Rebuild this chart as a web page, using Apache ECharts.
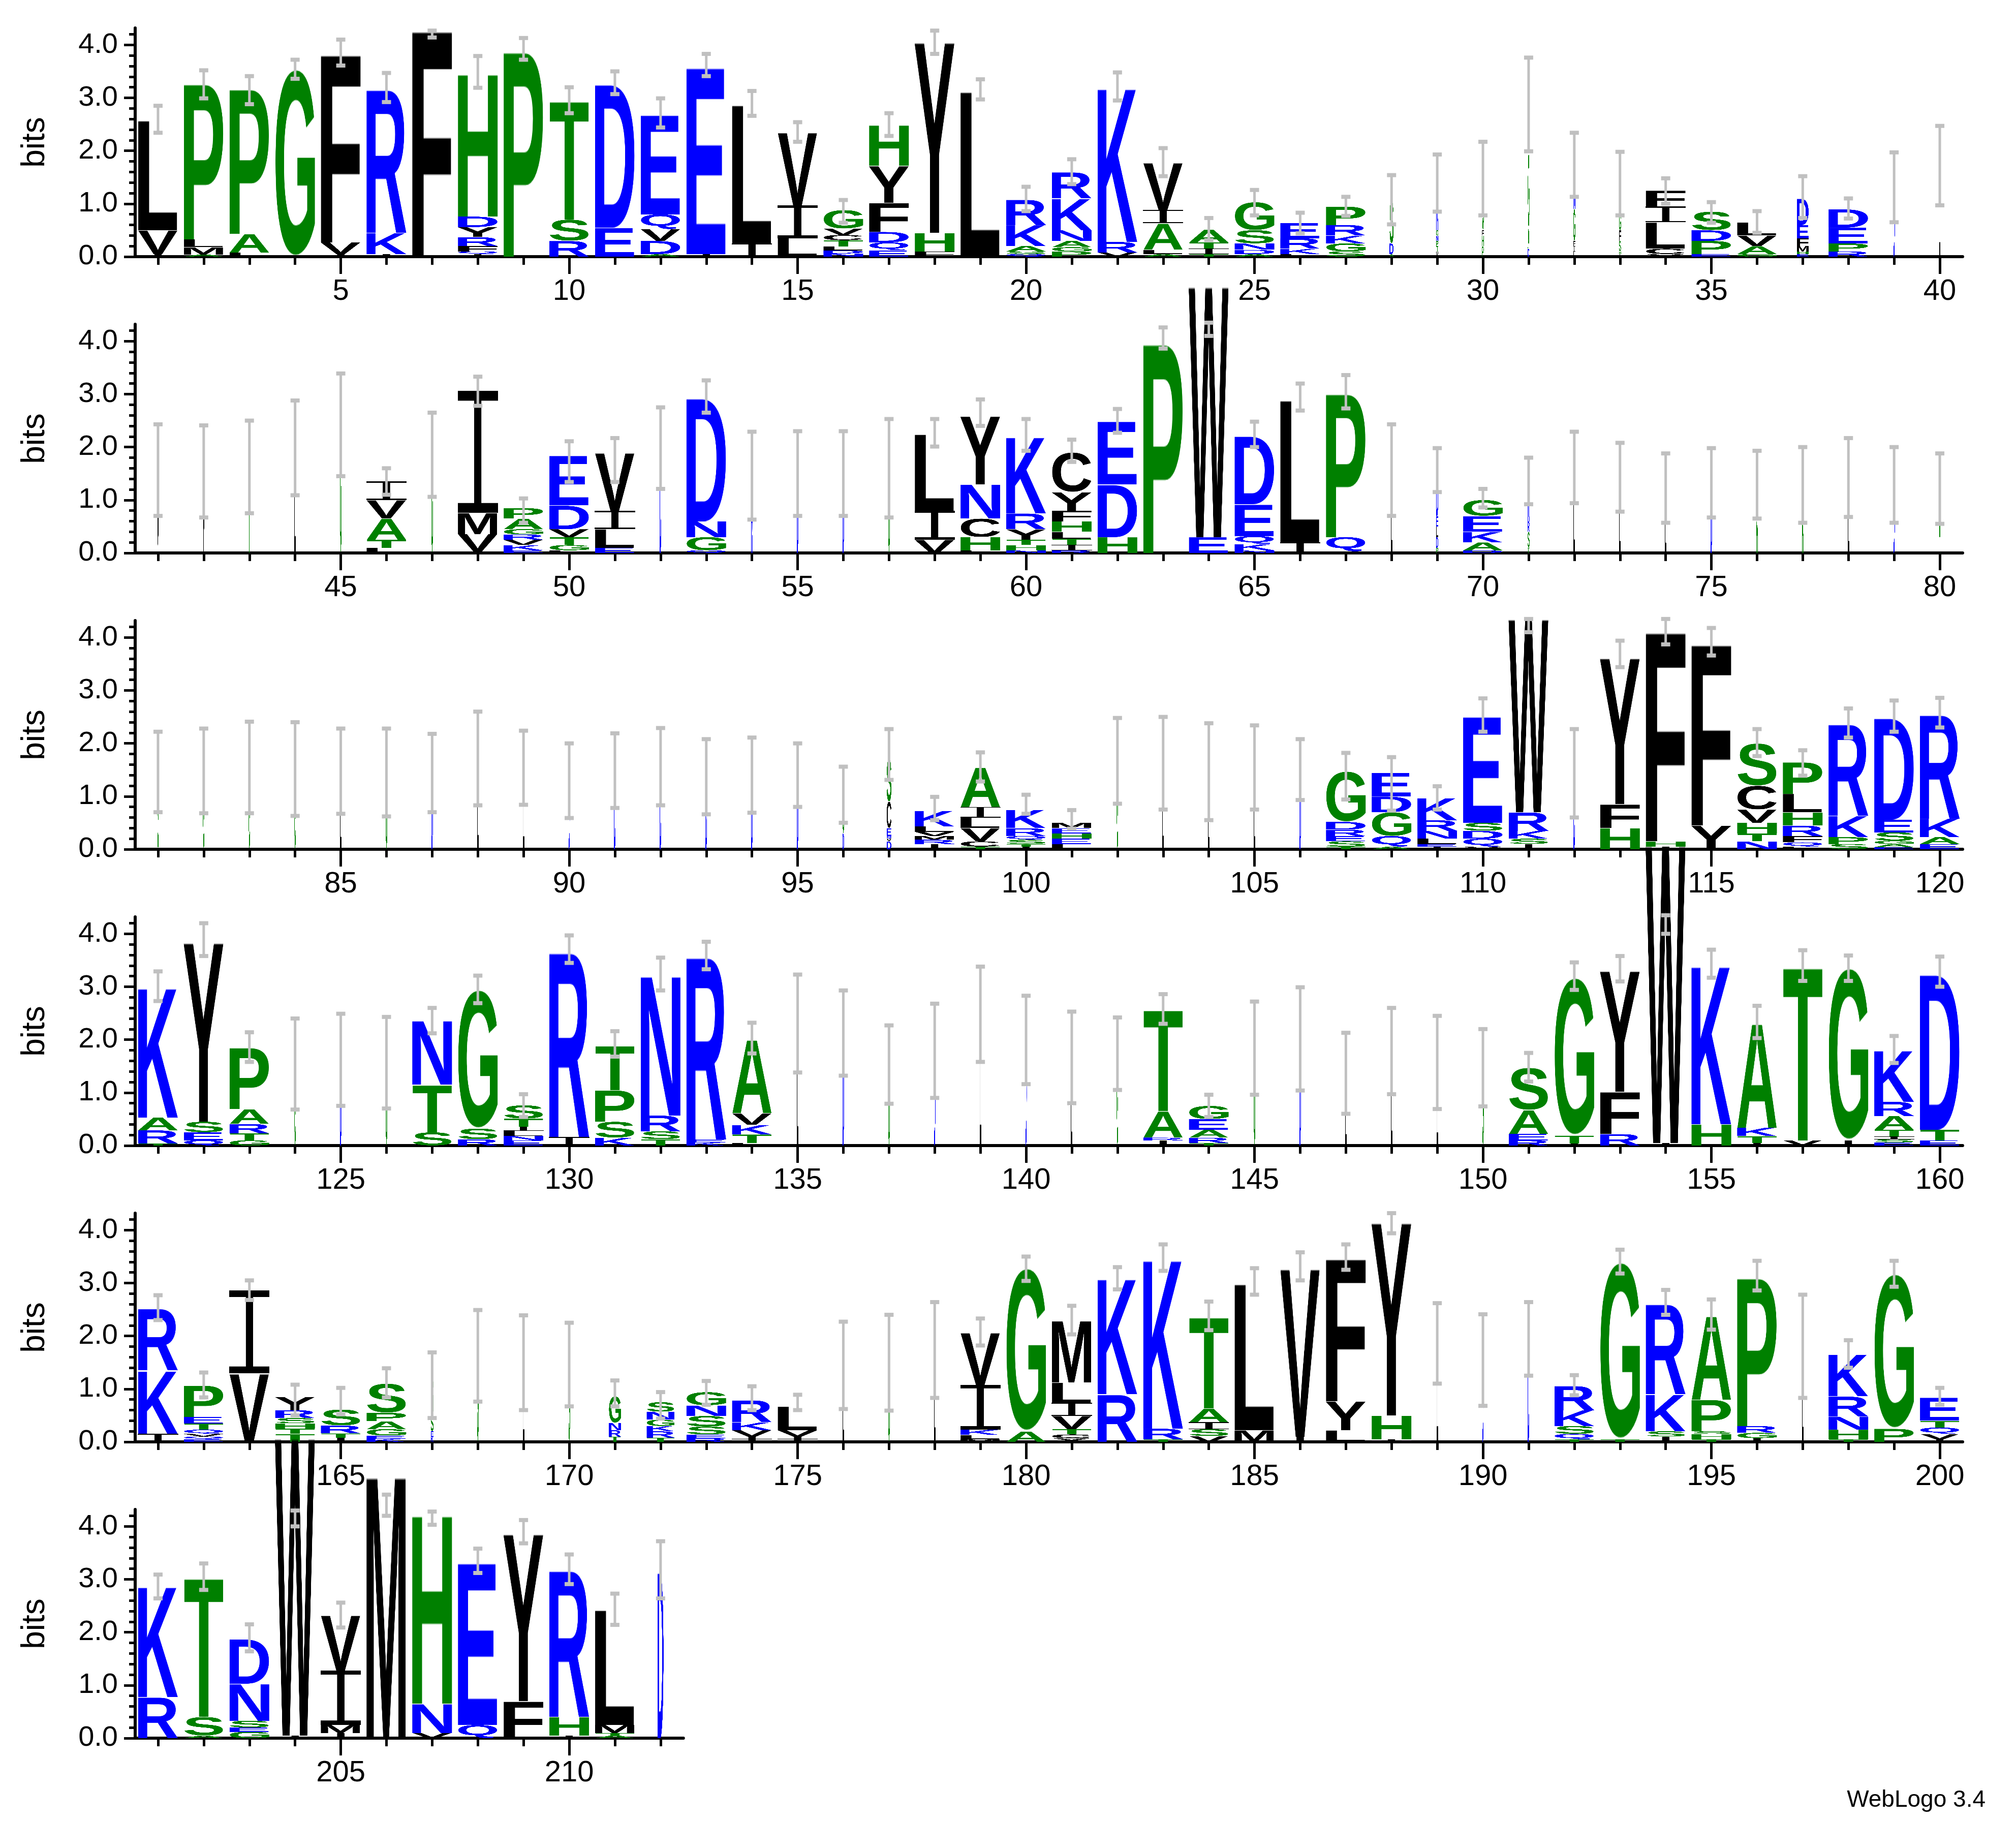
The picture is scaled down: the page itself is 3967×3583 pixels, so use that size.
<!DOCTYPE html><html><head><meta charset="utf-8">
<script src="https://cdn.jsdelivr.net/npm/echarts@6/dist/echarts.min.js"></script>
<style>html,body{margin:0;background:#fff}#c{width:3967px;height:3583px}</style></head>
<body><div id="c"></div><script>
// Letter stacks per position, bottom to top, "Letter:bits"; optional "wX|" = stack width fraction
const row1 = ["I:.05 V:.45 L:2.1","A:.04 M:.14 L:.15 P:2.97","L:.08 A:.35 P:2.77","G:3.54","I:.05 V:.22 F:3.59","I:.05 K:.4 R:2.74","F:4.32","I:.05 Q:.05 F:.1 R:.17 Y:.19 D:.2 H:2.72","P:3.92","R:.3 S:.4 T:2.26","E:.55 D:2.74","A:.05 D:.25 V:.22 Q:.28 E:1.9","I:.05 E:3.57","I:.25 L:2.65","L:.35 I:.62 V:1.39","N:.06 D:.06 L:.07 T:.12 C:.1 V:.12 G:.35","E:.12 Q:.15 D:.2 F:.55 Y:.7 H:.77","F:.1 H:.35 Y:3.65","L:3.16","Q:.05 S:.05 A:.1 K:.4 R:.48","P:.1 G:.08 A:.12 N:.2 K:.6 R:.5","V:.08 R:.2 K:2.93","A:.05 L:.08 A:.5 I:.25 V:.9","T:.05 I:.1 T:.12 A:.24","A:.05 D:.08 N:.12 S:.25 G:.53","L:.05 K:.1 R:.2 E:.29","S:.1 G:.15 K:.15 R:.2 P:.35","w.1|A:.05 D:.2 S:.8","w.06|V:.1 T:.1 P:.1 N:.1 G:.1 K:.9","w.04|P:.2 H:.2 F:.1 G:1.0","w.04|D:.15 A:.4 G:1.4","w.05|L:.1 I:.1 F:.1 G:.6 N:.83","w.05|I:.05 H:.05 S:.2 F:.2 G:.3 L:.58","V:.05 C:.1 L:.5 I:.3 F:.3","E:.05 P:.25 D:.2 S:.35","G:.05 A:.15 V:.2 L:.25","w.3|E:.05 H:.05 M:.1 F:.15 E:.25 D:.5","R:.1 P:.15 E:.3 D:.35","w.03|D:1.3","w.03|L:1.73"];
const err1 = [[2.34,2.85],[2.99,3.52],[2.88,3.41],[3.36,3.72],[3.61,4.1],[2.92,3.47],[4.14,4.27],[3.19,3.79],[3.72,4.13],[2.71,3.2],[3.07,3.5],[2.44,2.99],[3.41,3.83],[2.66,3.13],[2.17,2.54],[.64,1.07],[2.28,2.71],[3.83,4.27],[2.97,3.35],[.86,1.32],[1.37,1.84],[2.95,3.48],[1.52,2.05],[.31,.73],[.78,1.26],[.44,.83],[.77,1.13],[.61,1.54],[.85,1.93],[.78,2.17],[1.99,3.76],[1.13,2.34],[.78,1.98],[1.0,1.48],[.64,1.03],[.45,.86],[.73,1.52],[.72,1.1],[.65,1.97],[.97,2.47]];
const row2 = ["w.01|V:1.55","w.01|V:1.55","w.01|T:1.6","w.01|L:2.0","w.01|G:2.4","L:.1 T:.15 A:.4 V:.35 I:.35","w.01|G:1.85","L:.03 V:.33 M:.4 I:2.3","E:.05 K:.1 V:.1 R:.1 G:.1 A:.2 P:.2","L:.05 G:.1 T:.15 V:.15 D:.45 E:.95","E:.1 L:.35 I:.35 V:1.1","w.02|D:1.98","Q:.05 G:.25 N:.3 D:2.35","w.01|N:1.45","w.01|D:1.5","w.01|D:1.5","w.01|G:1.6","V:.25 I:.55 L:1.46","L:.05 H:.25 C:.35 N:.65 Y:1.3","N:.05 H:.1 T:.1 Y:.2 R:.3 K:1.45","R:.05 I:.1 T:.12 L:.13 H:.2 F:.2 Y:.35 C:.75","H:.3 D:1.0 E:1.2","P:4.0","E:.3 W:4.8","N:.05 K:.12 Q:.15 E:.6 D:1.3","I:.2 L:2.72","I:.03 Q:.27 P:2.74","w.01|L:1.55","w.05|P:.1 D:.2 L:.2 E:.2 D:.8","D:.05 A:.15 K:.2 E:.3 G:.3","w.05|T:.1 S:.3 R:.2 K:.75","w.01|L:1.6","w.01|L:1.43","w.01|L:1.22","w.01|D:1.32","w.01|A:1.3","w.01|A:1.3","w.01|L:1.42","w.01|D:1.3","w.01|A:1.2"];
const err2 = [[.7,2.43],[.67,2.41],[.75,2.5],[1.09,2.88],[1.45,3.39],[1.1,1.6],[1.06,2.65],[2.78,3.33],[.57,1.03],[1.34,2.11],[1.34,2.17],[1.21,2.75],[2.65,3.26],[.63,2.29],[.7,2.3],[.7,2.3],[.67,2.53],[2.01,2.53],[2.4,2.9],[1.93,2.53],[1.72,2.14],[2.27,2.72],[3.86,4.26],[4.1,4.35],[2.0,2.48],[2.69,3.2],[2.73,3.36],[.7,2.43],[1.15,1.98],[.86,1.21],[.92,1.8],[.94,2.29],[.78,2.08],[.57,1.88],[.67,1.98],[.65,1.93],[.57,2.0],[.68,2.17],[.57,2.0],[.55,1.88]];
const row3 = ["w.01|G:1.46","w.01|G:1.48","w.01|G:1.55","w.01|G:1.52","w.01|L:1.48","w.01|G:1.45","w.01|D:1.44","w.01|L:1.7","w.01|L:1.54","w.01|D:1.3","w.01|D:1.48","w.01|D:1.56","w.01|D:1.37","w.01|D:1.4","w.01|D:1.4","w.02|D:.3 G:.75","w.12|D:.15 V:.05 Q:.05 E:.15 C:.5 S:.8","I:.1 R:.08 M:.07 V:.08 L:.1 K:.3","T:.05 C:.1 V:.25 L:.2 I:.2 A:.75","I:.05 T:.05 S:.08 Q:.07 R:.15 K:.35","L:.1 E:.1 H:.1 E:.1 M:.1","w.01|G:1.67","w.01|L:1.62","w.01|L:1.46","w.01|L:1.54","w.03|D:1.48","T:.05 S:.1 E:.1 R:.12 D:.15 G:.95","A:.05 Q:.2 G:.45 D:.3 E:.45","I:.05 E:.05 L:.1 N:.15 R:.2 K:.42","V:.05 Q:.15 D:.15 S:.15 E:2.03","I:.1 S:.1 K:.15 R:.35 W:3.7","w.02|D:1.43","H:.4 F:.45 Y:2.8","I:.05 H:.1 F:4.0","Y:.45 F:3.46","N:.15 T:.15 H:.2 V:.25 C:.45 S:.8","L:.05 Q:.08 F:.12 R:.2 H:.25 L:.35 P:.6","S:.1 P:.13 K:.4 R:1.75","E:.04 A:.06 G:.06 S:.16 E:.24 D:1.94","E:.1 A:.13 K:.35 R:1.98"];
const err3 = [[.7,2.22],[.68,2.28],[.68,2.41],[.63,2.4],[.67,2.28],[.62,2.28],[.7,2.18],[.83,2.6],[.84,2.24],[.59,2.0],[.78,2.19],[.83,2.29],[.66,2.08],[.69,2.11],[.8,2.0],[.5,1.56],[1.31,2.27],[.55,.99],[1.28,1.83],[.67,1.03],[.39,.74],[.86,2.48],[.75,2.5],[.55,2.38],[.75,2.34],[.93,2.08],[.94,1.82],[.73,1.74],[.75,1.19],[2.22,2.85],[4.1,4.35],[.6,2.27],[3.44,3.94],[3.87,4.35],[3.66,4.18],[1.76,2.27],[1.39,1.87],[2.11,2.66],[2.22,2.81],[2.3,2.86]];
const row4 = ["T:.04 R:.25 A:.24 K:2.47","Q:.1 E:.15 S:.2 Y:3.43","G:.1 T:.13 R:.18 A:.28 P:1.17","w.01|G:1.54","w.01|D:1.62","w.01|G:1.56","S:.25 T:.9 N:1.22","R:.12 S:.2 G:2.62","E:.1 N:.08 L:.1 I:.08 T:.15 S:.25","I:.16 R:3.53","K:.15 S:.3 P:.6 T:.84","T:.12 S:.15 R:.3 N:2.66","K:.06 E:.06 R:3.48","L:.05 T:.16 K:.18 V:.22 A:1.4","w.01|L:2.3","w.01|D:2.12","w.01|G:1.53","w.01|D:1.79","w.01|L:2.48","w.01|D:2.0","w.01|L:1.66","w.01|G:1.73","I:.1 R:.05 A:.5 T:1.93","T:.05 R:.1 A:.15 E:.2 G:.25","w.01|G:1.84","w.01|D:2.0","w.01|L:1.36","w.01|L:1.78","w.01|L:1.57","w.01|G:1.47","R:.1 E:.12 A:.45 S:.8","I:.04 T:.15 G:2.98","R:.22 F:.8 Y:2.31","I:.05 W:5.7","H:.4 K:3.02","I:.05 T:.13 K:.16 A:1.98","V:.1 T:3.3","I:.1 G:3.25","E:.06 S:.06 I:.05 T:.13 A:.26 R:.27 K:.97","E:.1 T:.2 D:2.97"];
const err4 = [[2.73,3.29],[3.58,4.2],[1.58,2.14],[.68,2.4],[.75,2.49],[.7,2.43],[2.12,2.6],[2.69,3.21],[.54,.97],[3.45,3.97],[1.68,2.16],[2.93,3.55],[3.33,3.85],[1.74,2.32],[1.38,3.23],[1.32,2.93],[.79,2.27],[.9,2.68],[1.58,3.38],[1.16,2.83],[.8,2.53],[1.05,2.42],[2.3,2.86],[.54,.96],[.96,2.72],[1.04,2.99],[.6,2.13],[.97,2.6],[.69,2.45],[.74,2.2],[1.21,1.75],[2.94,3.46],[3.1,3.58],[4.0,4.35],[3.17,3.7],[2.03,2.64],[3.11,3.69],[3.11,3.59],[1.56,2.07],[3.0,3.57]];
const row5 = ["I:.15 K:1.2 R:1.18","E:.05 Q:.05 V:.05 Q:.08 T:.12 E:.12 P:.6","V:1.3 I:1.56","T:.15 T:.1 H:.1 S:.1 R:.15 Y:.25","I:.08 T:.08 R:.15 S:.3","K:.06 E:.06 G:.12 A:.15 P:.16 S:.55","w.07|K:.1 E:.1 S:.3 G:.73","w.01|G:1.62","w.01|L:1.5","w.01|G:1.46","w.3|T:.1 R:.12 N:.14 G:.5","w.7|T:.08 R:.12 K:.1 G:.12 N:.15 S:.18","R:.07 E:.07 S:.15 S:.2 N:.2 G:.25","I:.05 I:.05 V:.12 K:.15 R:.42","I:.05 I:.05 V:.12 L:.45","w.01|L:1.45","w.01|G:1.5","w.01|L:1.73","M:.05 L:.08 K:.1 I:.85 V:.99","A:.2 G:3.08","Y:.07 C:.07 T:.1 V:.25 I:.25 L:.38 M:1.18","R:.9 K:2.2","T:.05 R:.2 K:3.22","V:.11 S:.13 I:.13 A:.26 T:1.74","M:.22 L:2.8","I:.1 V:3.21","L:.22 Y:.55 F:2.72","I:.05 H:.45 Y:3.69","w.01|L:1.86","w.01|D:1.55","w.03|D:1.95","T:.05 Q:.1 S:.15 K:.3 R:.46","T:.05 G:3.34","I:.1 S:.1 K:.7 R:1.72","T:.05 H:.1 S:.05 P:.6 A:1.59","I:.07 G:.1 R:.13 P:2.83","w.01|L:1.8","T:.05 H:.18 N:.25 R:.38 K:.8","P:.25 G:2.92","I:.05 V:.1 Q:.12 T:.13 E:.44"];
const err5 = [[2.3,2.77],[.84,1.31],[2.68,3.05],[.5,1.08],[.52,1.02],[.84,1.39],[.45,1.69],[.76,2.49],[.6,2.39],[.67,2.25],[.67,1.16],[.44,.94],[.7,1.15],[.6,1.05],[.6,.89],[.62,2.27],[.59,2.4],[.83,2.64],[1.82,2.33],[3.04,3.5],[2.03,2.57],[2.88,3.3],[3.23,3.73],[2.11,2.65],[2.78,3.28],[3.05,3.58],[3.25,3.73],[3.94,4.32],[1.1,2.62],[.68,2.41],[1.25,2.64],[.88,1.26],[3.18,3.63],[2.4,2.87],[2.12,2.69],[2.86,3.42],[.83,2.78],[1.4,1.92],[2.93,3.42],[.7,1.02]];
const row6 = ["R:.78 K:2.1","A:.05 S:.35 T:2.65","G:.12 E:.08 S:.13 N:.7 D:.85","I:.05 W:5.7","I:.1 M:.15 I:1.03 V:1.05","M:5.0","V:.1 N:.55 H:3.6","Q:.25 E:3.1","F:.7 Y:3.2","I:.05 H:.35 R:2.8","A:.05 T:.05 M:.15 L:2.2","w.15|D:3.17"];
const err6 = [[2.64,3.09],[2.8,3.3],[1.64,2.15],[4.0,4.3],[2.09,2.56],[4.2,4.6],[4.03,4.28],[3.12,3.58],[3.68,4.12],[2.91,3.47],[2.14,2.73],[2.64,3.72]];
const rowStarts = [1,41,81,121,161,201];
const rowEnds = [40,80,120,160,200,212];
const yTickLabels = [0,1,2,3,4];

const LETTERS='ACDEFGHIKLMNPQRSTVWY';
const colorOf=c=>'RKDENQ'.includes(c)?'#0000ff':('SGHTAP'.includes(c)?'#008000':'#000000');
const cache={};
function glyph(ch){
  if(cache[ch]) return cache[ch];
  const cv=document.createElement('canvas');
  if(ch==='I'){
    cv.width=200; cv.height=300; const c=cv.getContext('2d'); c.fillStyle=colorOf(ch);
    c.fillRect(0,0,200,24); c.fillRect(0,276,200,24); c.fillRect(82,0,36,300);
    cache[ch]=cv; return cv;
  }
  const font='bold 300px "Liberation Sans", Arial, sans-serif';
  const mc=document.createElement('canvas').getContext('2d'); mc.font=font;
  const m=mc.measureText(ch);
  const w=Math.ceil(m.actualBoundingBoxLeft+m.actualBoundingBoxRight), h=Math.ceil(m.actualBoundingBoxAscent+m.actualBoundingBoxDescent);
  cv.width=w; cv.height=h;
  const ctx=cv.getContext('2d'); ctx.font=font; ctx.fillStyle=colorOf(ch); ctx.textBaseline='alphabetic';
  ctx.fillText(ch,m.actualBoundingBoxLeft,m.actualBoundingBoxAscent);
  cache[ch]=cv; return cv;
}
function parseRow(strs,start){
  const out=[];
  strs.forEach((s,j)=>{
    let w=1,body=s;
    if(s[0]==='w'){const k=s.indexOf('|'); w=parseFloat(s.slice(1,k)); body=s.slice(k+1);}
    let y=0;
    body.trim().split(/\s+/).forEach(t=>{const p=t.split(':'); const hv=parseFloat(p[1]); out.push([start+j,y,y+hv,LETTERS.indexOf(p[0]),w]); y+=hv;});
  });
  return out;
}
function renderLetter(params,api){
  const x=api.value(0),y0=api.value(1),y1=api.value(2),li=api.value(3),w=api.value(4);
  const a=api.coord([x,y0]), b=api.coord([x,y1]);
  const colW=api.size([1,0])[0];
  const ww=Math.max(colW*0.88*w,3);
  return {type:'image',style:{image:glyph(LETTERS[li]),x:a[0]-ww/2,y:b[1],width:ww,height:Math.max(a[1]-b[1],0.5)}};
}
function renderErr(params,api){
  const x=api.value(0); const a=api.coord([x,api.value(1)]), b=api.coord([x,api.value(2)]);
  const g='#c0c0c0';
  return {type:'group',children:[
    {type:'line',shape:{x1:a[0],y1:a[1],x2:b[0],y2:b[1]},style:{stroke:g,lineWidth:5}},
    {type:'rect',shape:{x:a[0]-9,y:a[1]-4,width:18,height:8},style:{fill:g}},
    {type:'rect',shape:{x:b[0]-9,y:b[1]-4,width:18,height:8},style:{fill:g}}]};
}
const rows=[row1,row2,row3,row4,row5,row6], errs=[err1,err2,err3,err4,err5,err6];
const FONT='"Liberation Sans", Arial, sans-serif';
const grid=[],xAxis=[],yAxis=[],series=[];
const colPx=89.9;
rows.forEach((r,i)=>{
  const s=rowStarts[i], e=rowEnds[i];
  grid.push({left:266,top:55+583*i,width:colPx*(e-s+1),height:450});
  const all=[],fives=[];
  for(let p=s;p<=e;p++){all.push(p); if(p%5===0) fives.push(p);}
  const base={type:'value',gridIndex:i,position:'bottom',offset:0,min:s-0.5,max:e+0.5,splitLine:{show:false}};
  xAxis.push(Object.assign({},base,{axisLine:{lineStyle:{color:'#000',width:6}},axisTick:{customValues:all,length:16,lineStyle:{color:'#000',width:5}},axisLabel:{customValues:fives,fontSize:58,color:'#000',fontFamily:FONT,margin:40}}));
  xAxis.push(Object.assign({},base,{axisLine:{show:false},axisTick:{customValues:fives,length:34,lineStyle:{color:'#000',width:5}},axisLabel:{show:false}}));
  const ticks=[]; for(let k=0;k<=21;k++) ticks.push(+(k*0.2).toFixed(1));
  const ybase={type:'value',gridIndex:i,position:'left',offset:0,min:0,max:4.32,splitLine:{show:false}};
  yAxis.push(Object.assign({},ybase,{name:'bits',nameLocation:'middle',nameGap:165,nameTextStyle:{fontSize:64,color:'#000',fontFamily:FONT},axisLine:{lineStyle:{color:'#000',width:6}},axisTick:{customValues:ticks,length:12,lineStyle:{color:'#000',width:5}},axisLabel:{customValues:yTickLabels,formatter:v=>v.toFixed(1),fontSize:56,color:'#000',fontFamily:FONT,margin:34}}));
  yAxis.push(Object.assign({},ybase,{axisLine:{show:false},axisTick:{customValues:yTickLabels,length:22,lineStyle:{color:'#000',width:5}},axisLabel:{show:false}}));
  series.push({type:'custom',coordinateSystem:'cartesian2d',xAxisIndex:2*i,yAxisIndex:2*i,clip:false,z:2,renderItem:renderLetter,data:parseRow(r,s),animation:false});
  series.push({type:'custom',coordinateSystem:'cartesian2d',xAxisIndex:2*i,yAxisIndex:2*i,clip:false,z:3,renderItem:renderErr,data:errs[i].map((v,j)=>[s+j,v[0],v[1]]),animation:false});
});
const chart=echarts.init(document.getElementById('c'),null,{renderer:'canvas'});
chart.setOption({backgroundColor:'#fff',animation:false,grid,xAxis,yAxis,series,
  graphic:[{type:'text',right:60,bottom:18,style:{text:'WebLogo 3.4',fontSize:46,fill:'#000',fontFamily:FONT}}]});
</script></body></html>
